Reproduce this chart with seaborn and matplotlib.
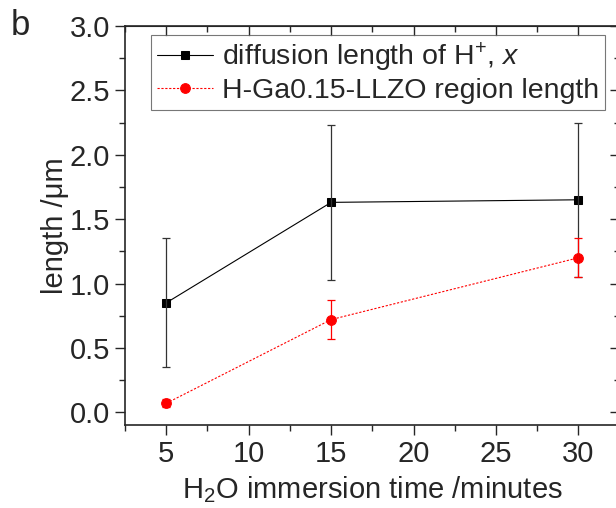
import numpy as np
import pandas as pd
import matplotlib
matplotlib.use('Agg')
import matplotlib.pyplot as plt
import seaborn as sns
from matplotlib.ticker import MultipleLocator, NullFormatter

sns.set_style('ticks')
plt.rcParams['font.family'] = ['Liberation Sans', 'DejaVu Sans']
plt.rcParams['mathtext.fontset'] = 'custom'
plt.rcParams['mathtext.rm'] = 'Liberation Sans'
plt.rcParams['mathtext.it'] = 'Liberation Sans:italic'

# data
times = [5, 15, 30]
diffusion_len = [0.85, 1.63, 1.65]
diffusion_err = [0.5, 0.6, 0.6]
region_len = [0.07, 0.72, 1.20]
region_err = [0.03, 0.15, 0.15]

df = pd.DataFrame({'time': times * 2,
                   'length': diffusion_len + region_len,
                   'series': ['diff'] * 3 + ['region'] * 3})

fig = plt.figure(figsize=(6.16, 5.08), dpi=100)
ax = fig.add_axes([0.203, 0.163, 0.803, 0.786])

d1 = df[df['series'] == 'diff']
d2 = df[df['series'] == 'region']
sns.lineplot(data=d1, x='time', y='length', ax=ax, color='black', lw=0.8,
             marker='s', markersize=6, markeredgecolor='black',
             label=r'diffusion length of H$^{+}$, $x$')
sns.lineplot(data=d2, x='time', y='length', ax=ax, color='red', lw=0.8,
             linestyle=(0, (2, 1.5)), marker='o', markersize=7,
             markeredgecolor='red', label='H-Ga0.15-LLZO region length')
ax.errorbar(times, diffusion_len, yerr=diffusion_err, fmt='none', ecolor='#333333',
            elinewidth=0.9, capsize=3, capthick=0.9)
ax.errorbar(times, region_len, yerr=region_err, fmt='none', ecolor='red',
            elinewidth=0.9, capsize=3, capthick=0.9)

ax.set_xlim(2.5, 32.5)
ax.set_ylim(-0.1, 3.0)
ax.xaxis.set_major_locator(MultipleLocator(5))
ax.xaxis.set_minor_locator(MultipleLocator(2.5))
ax.set_yticks(np.arange(0, 3.01, 0.5))
ax.set_yticklabels([f'{v:.1f}' for v in np.arange(0, 3.01, 0.5)])
ax.yaxis.set_minor_locator(MultipleLocator(0.25))
ax.tick_params(which='both', direction='out', labelsize=21, pad=4)
ax.tick_params(which='major', length=7, width=1)
ax.tick_params(which='minor', length=4, width=1)

# mirrored ticks pointing inward on top and right
top = ax.secondary_xaxis('top')
top.xaxis.set_major_locator(MultipleLocator(5))
top.xaxis.set_minor_locator(MultipleLocator(2.5))
top.xaxis.set_major_formatter(NullFormatter())
top.tick_params(which='both', direction='in', width=1)
top.tick_params(which='major', length=7)
top.tick_params(which='minor', length=4)
right = ax.secondary_yaxis('right')
right.yaxis.set_major_locator(MultipleLocator(0.5))
right.yaxis.set_minor_locator(MultipleLocator(0.25))
right.yaxis.set_major_formatter(NullFormatter())
right.tick_params(which='both', direction='in', width=1)
right.tick_params(which='major', length=7)
right.tick_params(which='minor', length=4)

for s in ax.spines.values():
    s.set_linewidth(1.2)

ax.set_xlabel(r'H$_2$O immersion time /minutes', fontsize=21, labelpad=4)
ax.set_ylabel('length /\u03bcm', fontsize=21, labelpad=0)

leg = ax.legend(loc='upper right', bbox_to_anchor=(0.97, 0.977), fontsize=20.5,
                frameon=True, fancybox=False, edgecolor='#555555',
                handlelength=2.0, borderpad=0.2, labelspacing=0.15,
                handletextpad=0.3, borderaxespad=0)
leg.get_frame().set_linewidth(0.8)

fig.text(0.018, 0.931, 'b', fontsize=25)

fig.savefig('out.png', dpi=100)
